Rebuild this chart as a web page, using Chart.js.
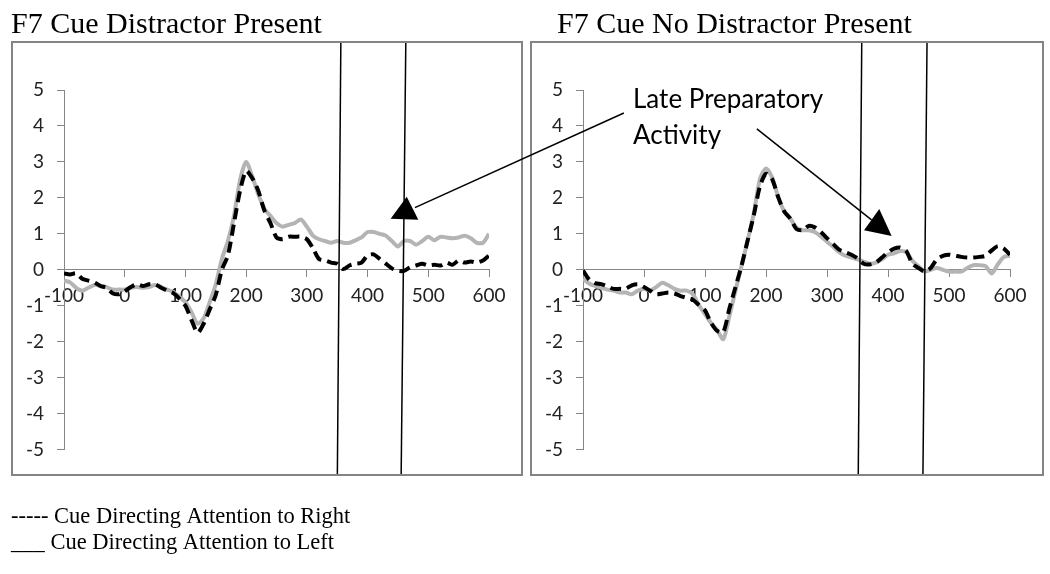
<!DOCTYPE html>
<html>
<head>
<meta charset="utf-8">
<script src="https://cdn.jsdelivr.net/npm/chart.js@4.4.1/dist/chart.umd.min.js"></script>
<style>
    html, body { margin: 0; padding: 0; background: #fff; }
    #page { position: relative; width: 1050px; height: 574px; overflow: hidden; }
    .frame { position: absolute; top: 41px; height: 431px; border: 2px solid #848484; }
    #frameL { left: 11px; width: 508px; }
    #frameR { left: 530px; width: 510px; }
    .frame canvas { display: block; }
    #overlay { position: absolute; left: 0; top: 0; pointer-events: none; }
</style>
</head>
<body>
<div id="page">
    <div class="frame" id="frameL"><canvas id="chartLeft" width="508" height="431"></canvas></div>
    <div class="frame" id="frameR"><canvas id="chartRight" width="510" height="431"></canvas></div>
    <canvas id="overlay" width="1050" height="574"></canvas>
</div>
<script>
// time points (ms)
const times = [-100, -90, -80, -70, -60, -50, -40, -30, -20, -10,
    0, 10, 20, 30, 40, 50, 60, 70, 80, 90,
    100, 110, 120, 130, 140, 150, 160, 170, 180, 190,
    200, 210, 220, 230, 240, 250, 260, 270, 280, 290,
    300, 310, 320, 330, 340, 350, 360, 370, 380, 390,
    400, 410, 420, 430, 440, 450, 460, 470, 480, 490,
    500, 510, 520, 530, 540, 550, 560, 570, 580, 590, 600];

// Distractor present
const distLeftCue = [-0.3, -0.35, -0.5, -0.58, -0.5, -0.42, -0.45, -0.48, -0.55, -0.55,
    -0.55, -0.5, -0.48, -0.5, -0.48, -0.42, -0.48, -0.55, -0.62, -0.75,
    -0.9, -1.18, -1.5, -1.35, -0.9, -0.4, 0.3, 0.8, 1.5, 2.5,
    3.0, 2.6, 2.1, 1.7, 1.5, 1.3, 1.2, 1.25, 1.3, 1.4,
    1.2, 0.95, 0.85, 0.8, 0.75, 0.8, 0.75, 0.75, 0.82, 0.9,
    1.05, 1.05, 1.0, 0.95, 0.8, 0.65, 0.8, 0.8, 0.7, 0.8,
    0.92, 0.82, 0.92, 0.9, 0.88, 0.9, 0.95, 0.88, 0.75, 0.75, 1.0];
const distRightCue = [-0.1, -0.13, -0.1, -0.25, -0.3, -0.35, -0.45, -0.5, -0.65, -0.68,
    -0.6, -0.48, -0.4, -0.45, -0.4, -0.4, -0.5, -0.58, -0.65, -0.8,
    -1.0, -1.4, -1.75, -1.5, -1.1, -0.7, 0.0, 0.4, 1.3, 2.2,
    2.75, 2.55, 2.2, 1.65, 1.3, 0.9, 0.85, 0.92, 0.92, 0.92,
    0.85, 0.6, 0.3, 0.26, 0.2, 0.17, 0.02, 0.12, 0.17, 0.2,
    0.4, 0.43, 0.3, 0.17, 0.04, -0.03, -0.03, 0.07, 0.12, 0.17,
    0.12, 0.14, 0.12, 0.2, 0.14, 0.26, 0.2, 0.23, 0.2, 0.26, 0.4];

// No distractor present
const noDistLeftCue = [-0.25, -0.38, -0.45, -0.5, -0.55, -0.58, -0.63, -0.63, -0.68, -0.58,
    -0.53, -0.58, -0.48, -0.36, -0.43, -0.53, -0.58, -0.58, -0.68, -0.98,
    -1.23, -1.48, -1.68, -1.93, -1.28, -0.58, 0.12, 0.82, 1.57, 2.52,
    2.82, 2.57, 2.02, 1.62, 1.42, 1.17, 1.1, 1.1, 1.05, 0.93,
    0.78, 0.64, 0.49, 0.39, 0.34, 0.29, 0.23, 0.17, 0.2, 0.29,
    0.42, 0.46, 0.52, 0.49, 0.25, 0.1, -0.05, 0.0, 0.05, 0.0,
    -0.05, -0.05, -0.05, 0.05, 0.13, 0.13, 0.1, -0.1, 0.15, 0.36, 0.39];
const noDistRightCue = [-0.02, -0.27, -0.37, -0.4, -0.46, -0.53, -0.53, -0.53, -0.43, -0.4,
    -0.48, -0.58, -0.68, -0.66, -0.63, -0.66, -0.73, -0.78, -0.83, -0.98,
    -1.13, -1.48, -1.7, -1.73, -1.08, -0.48, 0.12, 0.82, 1.52, 2.32,
    2.67, 2.52, 2.02, 1.62, 1.42, 1.13, 1.1, 1.22, 1.18, 1.05,
    0.88, 0.72, 0.56, 0.49, 0.42, 0.32, 0.17, 0.15, 0.2, 0.34,
    0.49, 0.59, 0.62, 0.52, 0.17, 0.05, -0.05, 0.05, 0.29, 0.39,
    0.42, 0.39, 0.36, 0.34, 0.34, 0.36, 0.39, 0.54, 0.66, 0.59, 0.42];

// window markers (slightly slanted hand-drawn lines), [top, bottom] in data units
const distWindowLines = [
    [{ x: 356, y: 6.37 }, { x: 350, y: -6.2 }],
    [{ x: 463, y: 6.37 }, { x: 455, y: -6.2 }]
];
const noDistWindowLines = [
    [{ x: 357, y: 6.37 }, { x: 351, y: -6.2 }],
    [{ x: 464, y: 6.37 }, { x: 457, y: -6.2 }]
];

const annotationText = ['Late Preparatory', 'Activity'];
const annotationTextPos = [{ x: -18, y: 4.5 }, { x: -18, y: 3.51 }];   // right chart
const arrowToLeft = { from: { x: -33, y: 4.36 }, to: { x: 478, y: 1.73 } };  // from right chart to left chart
const arrowHeadLeft = [{ x: 464.5, y: 2.03 }, { x: 438, y: 1.42 }, { x: 483.6, y: 1.39 }];
const arrowToRight = { from: { x: 185, y: 3.92 }, to: { x: 373, y: 1.39 } };
const arrowHeadRight = [{ x: 385.7, y: 1.69 }, { x: 360.7, y: 1.10 }, { x: 406, y: 0.94 }];

const AXIS_GRAY = '#868686';
const TICK_FONT = { family: 'Lato', size: 19 };

function toPoints(ys) {
    return ys.map(function (v, i) { return { x: times[i], y: v }; });
}

function makeChart(canvasId, leftCue, rightCue, windowLines) {
    const datasets = windowLines.map(function (pts) {
        return {
            data: pts,
            borderColor: '#000',
            borderWidth: 1.5,
            pointRadius: 0,
            tension: 0,
            clip: false
        };
    });
    datasets.push({
        label: 'Cue Directing Attention to Right',
        data: toPoints(rightCue),
        borderColor: '#000',
        borderWidth: 4,
        borderDash: [11, 6],
        pointRadius: 0,
        tension: 0.25
    });
    datasets.push({
        label: 'Cue Directing Attention to Left',
        data: toPoints(leftCue),
        borderColor: '#b4b4b4',
        borderWidth: 4,
        pointRadius: 0,
        tension: 0.25
    });

    return new Chart(document.getElementById(canvasId), {
        type: 'line',
        data: { datasets: datasets },
        options: {
            responsive: false,
            animation: false,
            events: [],
            layout: { padding: { top: 47, right: 32, left: 0, bottom: 0 } },
            plugins: { legend: { display: false }, tooltip: { enabled: false } },
            scales: {
                x: {
                    type: 'linear',
                    position: { y: 0 },
                    min: -100,
                    max: 600,
                    ticks: { stepSize: 100, color: '#222', font: TICK_FONT, padding: 8, maxRotation: 0, autoSkip: false },
                    grid: { drawOnChartArea: false, tickLength: 7, color: AXIS_GRAY },
                    border: { color: AXIS_GRAY },
                    afterFit: function (s) { s.height = 42; }
                },
                y: {
                    min: -5,
                    max: 5,
                    ticks: { stepSize: 1, color: '#222', font: TICK_FONT, padding: 13 },
                    grid: { drawOnChartArea: false, tickLength: 7, color: AXIS_GRAY },
                    border: { color: AXIS_GRAY },
                    afterFit: function (s) { s.width = 51; }
                }
            }
        }
    });
}

const chartLeft = makeChart('chartLeft', distLeftCue, distRightCue, distWindowLines);
const chartRight = makeChart('chartRight', noDistLeftCue, noDistRightCue, noDistWindowLines);

// overlay: titles, legend text and the arrows that run across both panels
(function () {
    const overlay = document.getElementById('overlay');
    const ctx = overlay.getContext('2d');
    const base = overlay.getBoundingClientRect();

    function toPage(chart, p) {
        const r = chart.canvas.getBoundingClientRect();
        return [r.left - base.left + chart.scales.x.getPixelForValue(p.x),
                r.top - base.top + chart.scales.y.getPixelForValue(p.y)];
    }

    function line(a, b) {
        ctx.beginPath();
        ctx.moveTo(a[0], a[1]);
        ctx.lineTo(b[0], b[1]);
        ctx.stroke();
    }

    function triangle(chart, pts) {
        const p = pts.map(function (q) { return toPage(chart, q); });
        ctx.beginPath();
        ctx.moveTo(p[0][0], p[0][1]);
        ctx.lineTo(p[1][0], p[1][1]);
        ctx.lineTo(p[2][0], p[2][1]);
        ctx.closePath();
        ctx.fill();
    }

    ctx.fillStyle = '#000';
    ctx.strokeStyle = '#000';
    ctx.textBaseline = 'alphabetic';

    ctx.font = '30px "Liberation Serif"';
    ctx.fillText('F7 Cue Distractor Present', 11, 33);
    ctx.fillText('F7 Cue No Distractor Present', 557, 33);

    ctx.font = '22.5px "Liberation Serif"';
    ctx.fillText('----- Cue Directing Attention to Right', 11, 523);
    ctx.fillText('___ Cue Directing Attention to Left', 11, 549);

    ctx.font = '26px Lato';
    annotationText.forEach(function (t, i) {
        const p = toPage(chartRight, annotationTextPos[i]);
        ctx.fillText(t, p[0], p[1]);
    });

    ctx.lineWidth = 1.5;
    line(toPage(chartRight, arrowToLeft.from), toPage(chartLeft, arrowToLeft.to));
    triangle(chartLeft, arrowHeadLeft);
    line(toPage(chartRight, arrowToRight.from), toPage(chartRight, arrowToRight.to));
    triangle(chartRight, arrowHeadRight);
})();
</script>
</body>
</html>
